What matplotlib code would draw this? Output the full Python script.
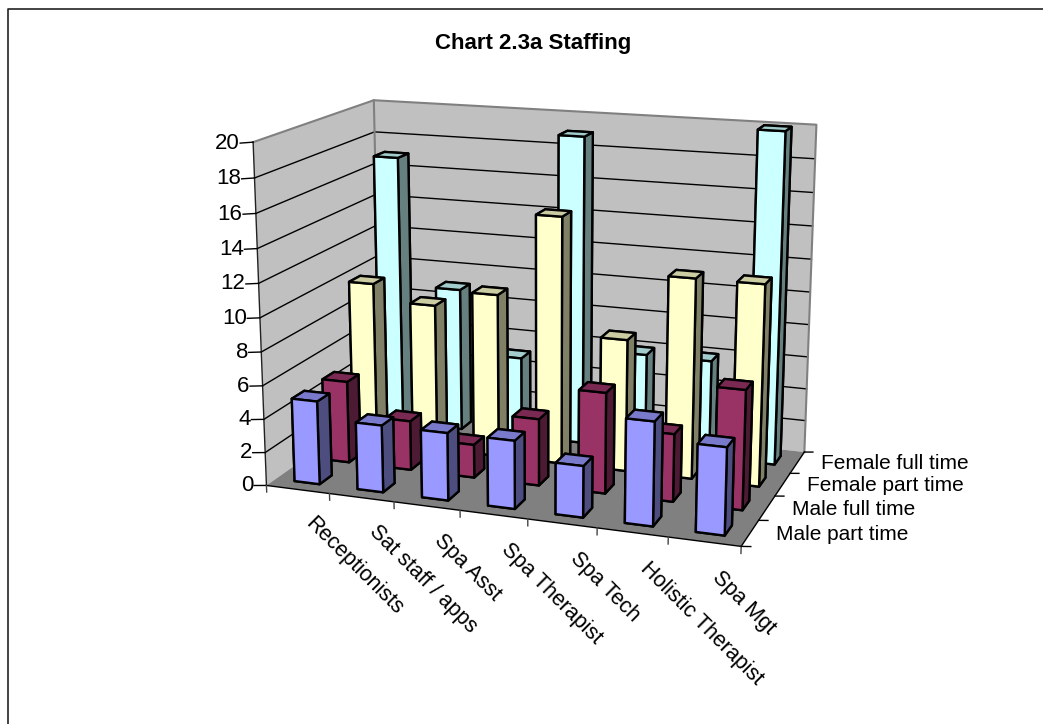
import numpy as np
import matplotlib
matplotlib.use('Agg')
import matplotlib.pyplot as plt
from matplotlib.lines import Line2D
from mpl_toolkits.mplot3d import proj3d
from mpl_toolkits.mplot3d.art3d import Poly3DCollection

plt.rcParams['font.family'] = ['Liberation Sans', 'DejaVu Sans']

categories = ['Receptionists', 'Sat staff / apps', 'Spa Asst', 'Spa Therapist',
              'Spa Tech', 'Holistic Therapist', 'Spa Mgt']
series_names = ['Male part time', 'Male full time', 'Female part time', 'Female full time']
male_part = [5, 4, 4, 4, 3, 6, 5]
male_full = [5, 3, 2, 4, 6, 4, 7]
female_part = [10, 9, 10, 15, 8, 12, 12]
female_full = [17, 9, 5, 19, 6, 6, 20]
series_values = [male_part, male_full, female_part, female_full]
z_ticks = list(range(0, 21, 2))

# front, top and side colours of each series
face_colors = ['#9999FF', '#993366', '#FFFFCC', '#CCFFFF']
top_colors = ['#7A7ACC', '#7A2952', '#CCCCA3', '#A3CCCC']
side_colors = ['#4D4D80', '#4D1A33', '#808066', '#668080']

W, H = 1043, 724
n_cat, n_ser, z_max = len(categories), len(series_names), 20
bar_w = 0.4

fig = plt.figure(figsize=(W / 100, H / 100), dpi=100, facecolor='white')
# chart area frame: only the top and left sides are inside the canvas
fig.add_artist(Line2D([1, 8.2 / W, 8.2 / W], [1 - 9.2 / H, 1 - 9.2 / H, 0],
                      transform=fig.transFigure, color='#222222', lw=1.2))
fig.text(533 / W, 1 - 44 / H, 'Chart 2.3a Staffing', ha='center', va='center',
         fontsize=16, fontweight='bold')

P = 638.58
ax = fig.add_axes([214.19 / W, 91.46 / H, P / W, P / H], projection='3d', computed_zorder=False)
ax.set_xlim(0, n_cat)
ax.set_ylim(0, n_ser)
ax.set_zlim(0, z_max)
ax.view_init(14.77, -70.57)
ax.set_proj_type('persp', focal_length=0.556)
ax.set_box_aspect((1, 0.574, 0.7143))
ax.set_axis_off()
ax.patch.set_alpha(0)


def label_at(x, y, z, s, **kw):
    # put a flat label at the projected position of a 3D point
    xp, yp, _ = proj3d.proj_transform(x, y, z, ax.get_proj())
    return ax.text2D(xp, yp, s, transform=ax.transData, clip_on=False, zorder=100, **kw)


# walls and floor
left_wall = [(0, 0, 0), (0, n_ser, 0), (0, n_ser, z_max), (0, 0, z_max)]
back_wall = [(0, n_ser, 0), (n_cat, n_ser, 0), (n_cat, n_ser, z_max), (0, n_ser, z_max)]
floor = [(0, 0, 0), (n_cat, 0, 0), (n_cat, n_ser, 0), (0, n_ser, 0)]
ax.add_collection3d(Poly3DCollection([left_wall, back_wall], facecolor='#C0C0C0',
                                     edgecolor='none', zorder=1), autolim=False)
ax.add_collection3d(Poly3DCollection([floor], facecolor='#808080', edgecolor='none', zorder=1),
                    autolim=False)

# gridlines on the two walls
for z in z_ticks[1:-1]:
    ax.plot([0, 0, n_cat], [0, n_ser, n_ser], [z, z, z], color='black', lw=1, zorder=2)

# grey box edges
ax.plot([0, 0, n_cat, n_cat], [0, n_ser, n_ser, n_ser], [z_max, z_max, z_max, 0],
        color='#808080', lw=1.5, zorder=2)
ax.plot([0, 0], [n_ser, n_ser], [0, z_max], color='#808080', lw=1.5, zorder=2)

# axis lines and tick marks
ax.plot([0, 0], [0, 0], [0, z_max], color='#222222', lw=1, zorder=3)
ax.plot([0, n_cat, n_cat], [0, 0, n_ser], [0, 0, 0], color='black', lw=1, zorder=3)
for z in z_ticks:
    ax.plot([0, -0.2], [0, 0], [z, z - 0.1], color='black', lw=1, zorder=3)
    label_at(-0.21, 0, z - 0.1, str(z), ha='right', va='center', fontsize=16)
for i in range(n_cat + 1):
    ax.plot([i, i], [0, 0], [0, -0.4], color='#444444', lw=1, zorder=3)
for j in range(n_ser + 1):
    ax.plot([n_cat, n_cat + 0.13], [j, j], [0, 0.06], color='black', lw=1, zorder=3)

# bars, drawn from the back row forward
order = 10
for j in range(n_ser - 1, -1, -1):
    for i in range(n_cat):
        # bar3d face order: bottom, top, front, back, left, right
        colors = [face_colors[j], top_colors[j], face_colors[j], face_colors[j],
                  side_colors[j], side_colors[j]]
        ax.bar3d(i + 0.5 - bar_w / 2, j + 0.5 - bar_w / 2, 0, bar_w, bar_w, series_values[j][i],
                 color=colors, edgecolor='black', linewidth=1.7, shade=False, zorder=order)
        order += 1

# category and series labels
for i, name in enumerate(categories):
    label_at(i + 0.66, 0, -1.8, name, rotation=-45, rotation_mode='anchor', ha='left',
             va='center', fontsize=15.5)
for j, name in enumerate(series_names):
    label_at(n_cat + 0.36, j + 0.5, 0.12, name, ha='left', va='center', fontsize=15)

fig.savefig('out.png', dpi=100, facecolor='white')
